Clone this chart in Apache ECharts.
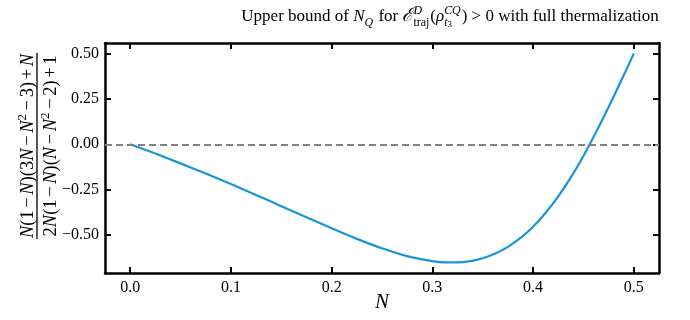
<!DOCTYPE html>
<html>
<head>
<meta charset="utf-8">
<script src="https://cdn.jsdelivr.net/npm/echarts@6/dist/echarts.min.js"></script>
<style>
  html, body { margin: 0; padding: 0; background: #fff; }
  #chart { width: 690px; height: 320px; }
</style>
</head>
<body>
<div id="chart"></div>
<script>
// Values
const nValues = [0, 0.025, 0.05, 0.075, 0.1, 0.125, 0.15, 0.175, 0.2, 0.225, 0.25, 0.275,
    0.3, 0.3125, 0.325, 0.3375, 0.35, 0.3625, 0.375, 0.3875, 0.4, 0.4125, 0.425, 0.4375,
    0.45, 0.4625, 0.475, 0.4875, 0.5];
const boundValues = [0, -0.051, -0.105, -0.161, -0.219, -0.279, -0.341, -0.402, -0.463, -0.521,
    -0.573, -0.616, -0.644, -0.651, -0.651, -0.644, -0.628, -0.602, -0.565, -0.516, -0.454,
    -0.377, -0.287, -0.182, -0.064, 0.066, 0.205, 0.351, 0.5];
const xTicks = [0, 0.1, 0.2, 0.3, 0.4, 0.5];
const yTicks = [-0.5, -0.25, 0, 0.25, 0.5];

const SERIF = '"Liberation Serif", "DejaVu Serif", serif';
const ctx = document.createElement('canvas').getContext('2d');

function textWidth(t, size, italic) {
    ctx.font = (italic ? 'italic ' : '') + size + 'px ' + SERIF;
    return ctx.measureText(t).width;
}

function textEl(t, x, baseline, size, italic) {
    return {
        type: 'text', x: x, y: baseline - 0.3 * size,
        style: {
            text: t, fontSize: size, fontFamily: SERIF,
            fontStyle: italic ? 'italic' : 'normal', fill: '#000',
            verticalAlign: 'middle', align: 'left'
        }
    };
}

// lay out a row of math pieces, baseline at y = 0
function layoutMath(pieces, size) {
    let x = 0;
    const els = [];
    pieces.forEach(p => {
        if (p.sup || p.sub) {
            let w = 0;
            [['sup', -0.42], ['sub', 0.24]].forEach(([k, dy]) => {
                if (!p[k]) return;
                let sx = x;
                p[k].forEach(s => {
                    const sz = size * 0.7 * (s.s || 1);
                    els.push(textEl(s.t, sx, (dy + (s.dy || 0)) * size, sz, s.it));
                    sx += textWidth(s.t, sz, s.it);
                });
                w = Math.max(w, sx - x);
            });
            x += w + 1;
        } else {
            const sz = size * (p.s || 1);
            const pad = (p.pad || 0) * size;
            x += pad;
            els.push(textEl(p.t, x, (p.dy || 0) * size, sz, p.it));
            x += textWidth(p.t, sz, p.it) + pad;
        }
    });
    return {els: els, width: x};
}

function shift(els, dx, dy) {
    els.forEach(e => { e.x += dx; e.y += dy; });
    return els;
}

// title
const titleRow = layoutMath([
    {t: 'Upper bound of '}, {t: 'N', it: true}, {sub: [{t: 'Q', it: true}]},
    {t: ' for '}, {t: 'ℰ', it: true, s: 1.1},
    {sup: [{t: 'D', it: true}], sub: [{t: 'traj'}]},
    {t: '('}, {t: 'ρ', it: true},
    {sup: [{t: 'CQ', it: true}], sub: [{t: 't', it: true}, {t: '3', s: 0.75, dy: 0.08}]},
    {t: ') > 0 with full thermalization'}
], 17);
const titleEls = shift(titleRow.els, 450 - titleRow.width / 2, 22);

// y label: fraction, rotated
const op = {pad: 0.14};
const numRow = layoutMath([
    {t: 'N', it: true}, {t: '(1'}, Object.assign({t: '−'}, op), {t: 'N', it: true}, {t: ')(3'},
    {t: 'N', it: true}, Object.assign({t: '−'}, op), {t: 'N', it: true}, {sup: [{t: '2'}]},
    Object.assign({t: '−'}, op), {t: '3)'}, Object.assign({t: '+'}, op), {t: 'N', it: true}
], 18.5);
const denRow = layoutMath([
    {t: '2'}, {t: 'N', it: true}, {t: '(1'}, Object.assign({t: '−'}, op), {t: 'N', it: true},
    {t: ')('}, {t: 'N', it: true}, Object.assign({t: '−'}, op), {t: 'N', it: true},
    {sup: [{t: '2'}]}, Object.assign({t: '−'}, op), {t: '2)'}, Object.assign({t: '+'}, op), {t: '1'}
], 18.5);
const barW = Math.max(numRow.width, denRow.width) + 2;
const yLabelGroup = {
    type: 'group', x: 37, y: 146, rotation: Math.PI / 2,
    children: shift(numRow.els, -numRow.width / 2, -3)
        .concat(shift(denRow.els, -denRow.width / 2, 20))
        .concat([{
            type: 'line',
            shape: {x1: -barW / 2, y1: 0, x2: barW / 2, y2: 0},
            style: {stroke: '#000', lineWidth: 1.3}
        }])
};

// x label
const xLabel = {
    type: 'text', x: 382, y: 302,
    style: {text: 'N', fontSize: 21, fontFamily: SERIF, fontStyle: 'italic', fill: '#000',
        align: 'center', verticalAlign: 'middle'}
};

const chart = echarts.init(document.getElementById('chart'));

const frameLine = {show: true, lineStyle: {color: '#000', width: 2.5}};
const tick = (vals) => ({show: true, inside: true, length: 6, customValues: vals,
    lineStyle: {color: '#000', width: 2}});
const labelStyle = {color: '#000', fontFamily: SERIF, fontSize: 16};

const option = {
    animation: false,
    grid: {left: 105, right: 31, top: 43, bottom: 47, outerBoundsMode: 'none', containLabel: false},
    xAxis: [{
        type: 'value', min: -0.025, max: 0.525,
        axisLine: Object.assign({onZero: false}, frameLine),
        axisTick: tick(xTicks),
        splitLine: {show: false},
        axisLabel: Object.assign({customValues: xTicks, margin: 7,
            formatter: v => v.toFixed(1)}, labelStyle)
    }, {
        type: 'value', position: 'top', min: -0.025, max: 0.525,
        axisLine: Object.assign({onZero: false}, frameLine),
        axisTick: tick(xTicks), axisLabel: {show: false}, splitLine: {show: false}
    }],
    yAxis: [{
        type: 'value', min: -0.709, max: 0.558,
        axisLine: Object.assign({onZero: false}, frameLine),
        axisTick: tick(yTicks),
        splitLine: {show: false},
        axisLabel: Object.assign({customValues: yTicks, margin: 6,
            formatter: v => (v < 0 ? '−' : '') + Math.abs(v).toFixed(2)}, labelStyle)
    }, {
        type: 'value', position: 'right', min: -0.709, max: 0.558,
        axisLine: Object.assign({onZero: false}, frameLine),
        axisTick: tick(yTicks), axisLabel: {show: false}, splitLine: {show: false}
    }],
    graphic: titleEls.concat([yLabelGroup, xLabel]),
    series: [{
        type: 'line',
        data: nValues.map((n, i) => [n, boundValues[i]]),
        smooth: 0.3,
        showSymbol: false,
        lineStyle: {color: '#1696d8', width: 2.2},
        markLine: {
            silent: true, symbol: 'none',
            label: {show: false},
            lineStyle: {color: '#808080', type: [7, 4], width: 2},
            data: [{yAxis: 0}]
        },
        z: 3
    }]
};

chart.setOption(option);
</script>
</body>
</html>
